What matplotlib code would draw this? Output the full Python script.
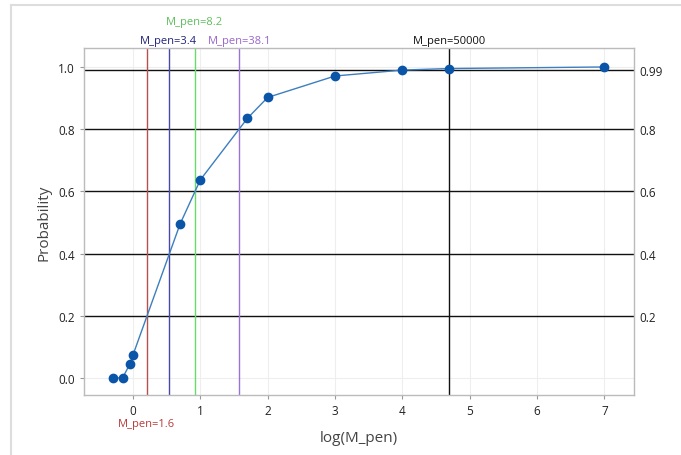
import matplotlib
matplotlib.use("Agg")
import matplotlib.pyplot as plt
from matplotlib.lines import Line2D
import numpy as np

# Data
m_pen = [0.5, 0.7, 0.9, 1.0, 5, 10, 50, 100, 1000, 10000, 50000, 1e7]
prob = [0.0, 0.0, 0.045, 0.074, 0.495, 0.637, 0.835, 0.902, 0.971, 0.990, 0.995, 1.0]
x_ticks = [0, 1, 2, 3, 4, 5, 6, 7]
y_ticks = [0.0, 0.2, 0.4, 0.6, 0.8, 1.0]
right_ticks = [0.2, 0.4, 0.6, 0.8, 0.99]
right_labels = ["0.2", "0.4", "0.6", "0.8", "0.99"]
ref_values = [1.6, 3.4, 8.2, 38.1, 50000]
ref_labels = ["M_pen=1.6", "M_pen=3.4", "M_pen=8.2", "M_pen=38.1", "M_pen=50000"]
ref_line_colors = ["#b5504c", "#4848a8", "#66dd66", "#9a72d8", "#111111"]
ref_text_colors = ["#b83a3a", "#23237a", "#5cbf5c", "#9a66cc", "#111111"]

plt.rcParams['font.family'] = ['Open Sans', 'DejaVu Sans']

fig = plt.figure(figsize=(6.81, 4.56), dpi=100)
fig.patch.set_facecolor('white')
ax = fig.add_axes([84/681, 1-396/456, (634-84)/681, (396-49)/456])

xs = np.log10(m_pen)

ax.set_xlim(-0.728, 7.44)
ax.set_ylim(-0.055, 1.061)

ax.grid(True, color='#eeeeee', linewidth=0.8, zorder=0)
ax.set_axisbelow(True)

for y in right_ticks:
    ax.axhline(y, color='#111111', linewidth=1.0, zorder=1)

for v, c in zip(ref_values, ref_line_colors):
    ax.axvline(np.log10(v), color=c, linewidth=1.0, zorder=2)

ax.plot(xs, prob, color='#3d7ebf', linewidth=1.0, zorder=3)
ax.plot(xs, prob, 'o', color='#0a55a8', markersize=6, zorder=4)

ax.set_xticks(x_ticks)
ax.set_xticklabels([str(t) for t in x_ticks])
ax.set_yticks(y_ticks)
ax.set_yticklabels([f"{t:.1f}" for t in y_ticks])
ax.tick_params(axis='both', labelsize=8.5, colors='#999999', labelcolor='#222222', length=3, width=0.8)

for s in ax.spines.values():
    s.set_color('#bbbbbb')
    s.set_linewidth(1.0)

ax2 = ax.twinx()
ax2.set_ylim(ax.get_ylim())
ax2.set_yticks(right_ticks)
ax2.set_yticklabels(right_labels)
ax2.tick_params(axis='y', labelsize=8.5, labelcolor='#222222', length=0, pad=4)
for s in ax2.spines.values():
    s.set_visible(False)

ax.set_xlabel("log(M_pen)", fontsize=11, color='#444444', labelpad=9)
ax.set_ylabel("Probability", fontsize=11, color='#444444', labelpad=5)

trans = ax.get_xaxis_transform()
ax.text(np.log10(ref_values[1]), 1.005, ref_labels[1], transform=trans, ha='center', va='bottom',
        fontsize=8, color=ref_text_colors[1])
ax.text(np.log10(ref_values[2]), 1.06, ref_labels[2], transform=trans, ha='center', va='bottom',
        fontsize=8, color=ref_text_colors[2])
ax.text(np.log10(ref_values[3]), 1.005, ref_labels[3], transform=trans, ha='center', va='bottom',
        fontsize=8, color=ref_text_colors[3])
ax.text(np.log10(ref_values[4]), 1.005, ref_labels[4], transform=trans, ha='center', va='bottom',
        fontsize=8, color=ref_text_colors[4])
ax.text(np.log10(ref_values[0]), -0.065, ref_labels[0], transform=trans, ha='center', va='top',
        fontsize=8, color=ref_text_colors[0])

# figure frame (top and left)
fig.add_artist(Line2D([11/681, 1.0], [1-6/456, 1-6/456], transform=fig.transFigure,
                      color='#dddddd', linewidth=1.5))
fig.add_artist(Line2D([11/681, 11/681], [0, 1-6/456], transform=fig.transFigure,
                      color='#dddddd', linewidth=1.5))

fig.savefig("out.png", dpi=100)
